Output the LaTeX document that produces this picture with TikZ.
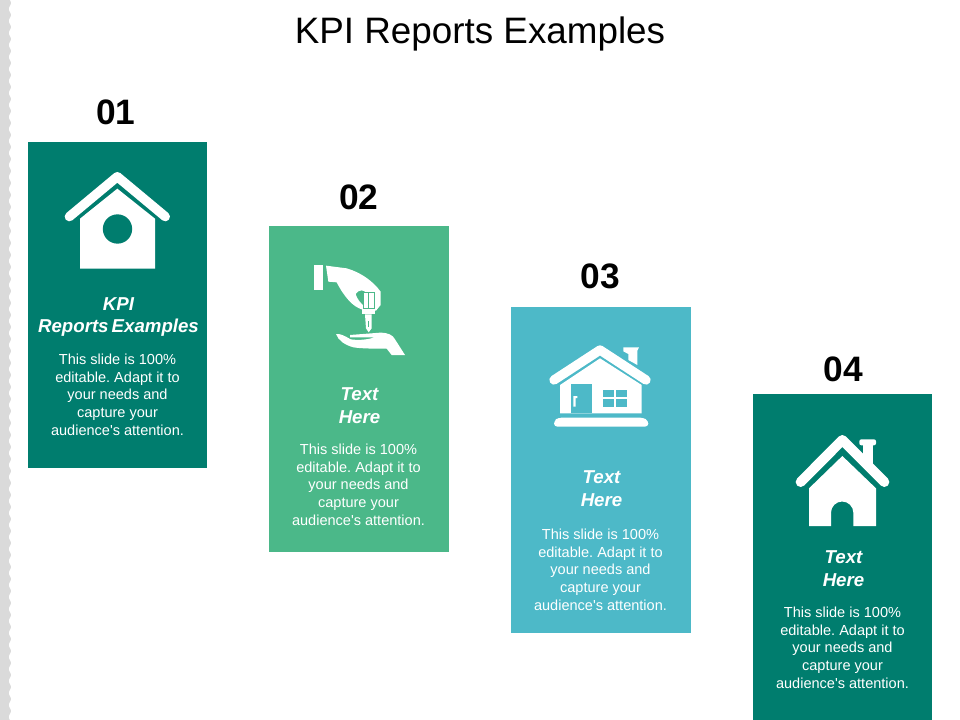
\documentclass[tikz,border=0pt]{standalone}
\usepackage{fontspec}
\setmainfont{Liberation Sans}
\newfontfamily\plainsans{Liberation Sans}
\definecolor{teal1}{RGB}{0,125,110}
\definecolor{green1}{RGB}{75,184,137}
\definecolor{blue1}{RGB}{77,185,200}
\definecolor{strip}{RGB}{218,218,218}
\tikzset{
  cardbox/.style={anchor=north west,inner sep=0pt,draw=none,minimum width=134.4pt,minimum height=244.5pt},
  widecard/.style={cardbox,minimum width=135pt},
  numlabel/.style={font=\bfseries\fontsize{26.5}{30}\selectfont,text=black,inner sep=0pt,anchor=center},
  headlabel/.style={font=\bfseries\itshape\fontsize{14}{17.2}\selectfont,text=white,align=center,inner sep=0pt,anchor=center},
  bodylabel/.style={font=\plainsans\frenchspacing\fontsize{10.9}{13.25}\selectfont,text=white,align=center,inner sep=0pt,anchor=center},
  iconrel/.style={x=0.25pt,y=-0.25pt}
}
\begin{document}
\begin{tikzpicture}[x=0.75pt,y=-0.75pt]
\useasboundingbox (0,0) rectangle (960,720);
\fill[strip] (0,0) -- plot[domain=0:720,samples=361] ({9.8+1.1*sin(mod(\x,12)*30)},\x) -- (0,720) -- cycle;

\node[font=\fontsize{27.6}{30}\selectfont,inner sep=0pt,anchor=center] (title) at (480,33.5) {KPI Reports Examples};

\node[cardbox,fill=teal1] (card1) at (28,142) {};
\node[widecard,fill=green1] (card2) at (269,226) {};
\node[widecard,fill=blue1] (card3) at (511,307) {};
\node[cardbox,fill=teal1] (card4) at (753,394) {};

\node[numlabel] (num1) at (116,112.5) {01};
\node[numlabel] (num2) at (359,197.5) {02};
\node[numlabel] (num3) at (600.5,276.5) {03};
\node[numlabel] (num4) at (843,369.5) {04};

\node[headlabel] (head1) at (118.5,317) {KPI\\Reports\,Examples};
\node[headlabel] (head2) at (359.5,406) {Text\\Here};
\node[headlabel] (head3) at (601.5,489) {Text\\Here};
\node[headlabel] (head4) at (843.5,569) {Text\\Here};

\node[bodylabel] (body1) at (117.5,394.5) {This slide is 100\%\\editable. Adapt it to\\your needs and\\capture your\\audience's attention.};
\node[bodylabel] (body2) at (358.5,484.5) {This slide is 100\%\\editable. Adapt it to\\your needs and\\capture your\\audience's attention.};
\node[bodylabel] (body3) at (600.5,569.5) {This slide is 100\%\\editable. Adapt it to\\your needs and\\capture your\\audience's attention.};
\node[bodylabel] (body4) at (842.5,647.5) {This slide is 100\%\\editable. Adapt it to\\your needs and\\capture your\\audience's attention.};

% icon 1: bird house
\begin{scope}[shift={(0,0)},iconrel]
\fill[white] (240,806) -- (240,656) -- (352,566) -- (465,656) -- (465,806) -- cycle;
\fill[teal1] (352.5,687) circle (44);
\draw[white,line width=7pt,line cap=round,line join=round] (208,650) -- (352,530) -- (496,650);
\end{scope}

% icon 2: hand with key
\begin{scope}[shift={(290,250)},iconrel]
\fill[white] (72,45) rectangle (100,120);
\fill[white,even odd rule] (108,47) -- (170,55) .. controls (215,68) and (250,95) .. (272,125)
  -- (272,165) -- (258,182) -- (215,178) .. controls (190,170) and (165,145) .. (140,97)
  -- (115,95) -- cycle
  (197,132) .. controls (205,118) and (225,118) .. (228,130) -- (222,168) .. controls (212,160) and (200,145) .. (197,132) -- cycle;
\fill[green1] (220,126) rectangle (256,176);
\fill[white] (223,128) rectangle (235,174);
\fill[white] (238,128) rectangle (252,174);
\fill[white] (216,177) rectangle (255,191);
\fill[white] (225,193) -- (245,193) -- (245,235) -- (236,247) -- (228,235) -- cycle;
\fill[green1] (234,212) rectangle (237,232);
\fill[white] (138,252) .. controls (150,250) and (165,258) .. (182,268)
  .. controls (210,272) and (235,268) .. (255,262) -- (180,262) -- (180,255) -- (270,248)
  .. controls (295,248) and (308,255) .. (315,268) -- (345,315) -- (305,315) -- (290,296)
  .. controls (255,296) and (215,296) .. (190,292) .. controls (165,285) and (145,272) .. (138,252) -- cycle;
\end{scope}

% icon 3: house with door and window
\begin{scope}[shift={(530,330)},iconrel]
\fill[white] (280,52) -- (327,52) -- (322,62) -- (322,105) -- (295,90) -- (295,72) -- (280,64) -- cycle;
\fill[white] (90,250) -- (90,165) -- (210,85) -- (335,165) -- (335,250) -- cycle;
\draw[white,line width=7pt,line cap=round,line join=round] (72,150) -- (210,60) -- (348,150);
\fill[blue1] (122,162) rectangle (185,250);
\fill[white] (130,198) -- (142,198) -- (142,204) -- (137,204) -- (137,230) -- (130,230) -- cycle;
\fill[blue1] (220,180) rectangle (252,202);
\fill[blue1] (258,180) rectangle (290,202);
\fill[blue1] (220,207) rectangle (252,230);
\fill[blue1] (258,207) rectangle (290,230);
\fill[white,rounded corners=2.5pt] (72,290) -- (72,272) -- (85,263) -- (340,263) -- (355,272) -- (355,290) -- cycle;
\end{scope}

% icon 4: house with chimney
\begin{scope}[shift={(780,420)},iconrel]
\fill[white] (248,70) rectangle (278,140);
\fill[white,rounded corners=1.5pt] (238,58) rectangle (288,76);
\draw[white,line width=7.5pt,line cap=round,line join=round] (62,186) -- (187,60) -- (313,186);
\fill[white] (87,318) -- (87,205) -- (187,108) -- (288,205) -- (288,318) -- (220,318) -- (220,278) arc[start angle=0,end angle=-180,radius=33.5] -- (153,318) -- cycle;
\end{scope}
\end{tikzpicture}
\end{document}
